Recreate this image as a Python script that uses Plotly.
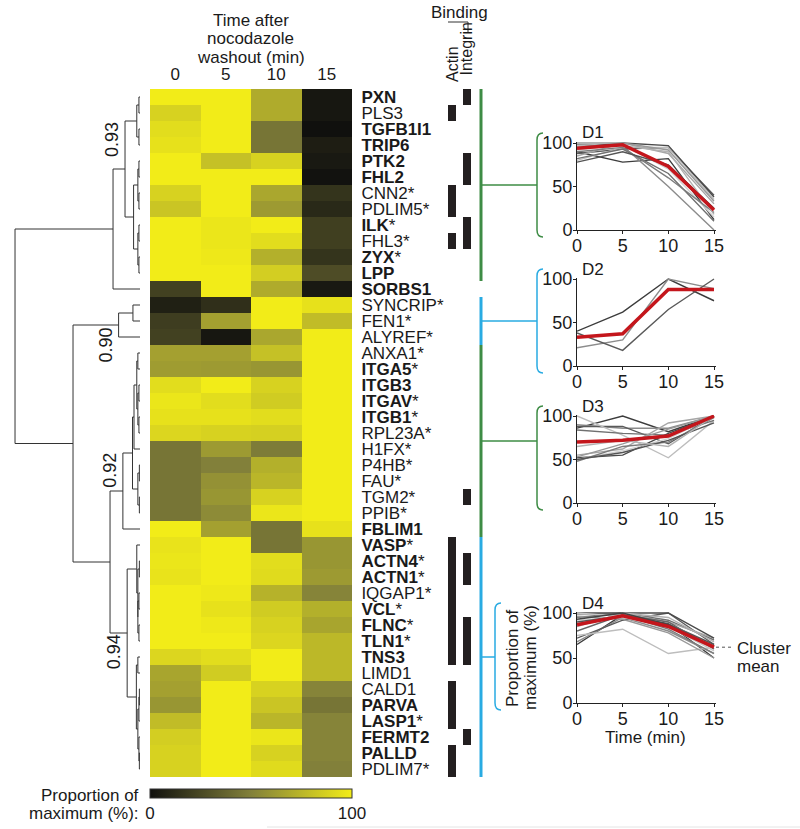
import plotly.graph_objects as go

W, H = 800, 829
FONT = "Liberation Sans, Arial, Helvetica, sans-serif"
INK = "#1a1a1a"


def px(x):
    return x / W


def py(y):
    return 1 - y / H


# ---------------- data ----------------
genes = ["PXN", "PLS3", "TGFB1I1", "TRIP6", "PTK2", "FHL2", "CNN2", "PDLIM5", "ILK", "FHL3",
         "ZYX", "LPP", "SORBS1", "SYNCRIP", "FEN1", "ALYREF", "ANXA1", "ITGA5", "ITGB3", "ITGAV",
         "ITGB1", "RPL23A", "H1FX", "P4HB", "FAU", "TGM2", "PPIB", "FBLIM1", "VASP", "ACTN4",
         "ACTN1", "IQGAP1", "VCL", "FLNC", "TLN1", "TNS3", "LIMD1", "CALD1", "PARVA", "LASP1",
         "FERMT2", "PALLD", "PDLIM7"]
starred = ["CNN2", "PDLIM5", "ILK", "FHL3", "ZYX", "SYNCRIP", "FEN1", "ALYREF", "ANXA1", "ITGA5",
           "ITGAV", "ITGB1", "RPL23A", "H1FX", "P4HB", "FAU", "TGM2", "PPIB", "VASP", "ACTN4",
           "ACTN1", "IQGAP1", "VCL", "FLNC", "TLN1", "LASP1", "PDLIM7"]
bold = ["PXN", "TGFB1I1", "TRIP6", "PTK2", "FHL2", "ILK", "ZYX", "LPP", "SORBS1", "ITGA5", "ITGB3",
        "ITGAV", "ITGB1", "FBLIM1", "VASP", "ACTN4", "ACTN1", "VCL", "FLNC", "TLN1", "TNS3",
        "PARVA", "LASP1", "FERMT2", "PALLD"]

time_labels = ["0", "5", "10", "15"]
time_min = [0, 5, 10, 15]

# heatmap: proportion of maximum (%) per time point
t0 = [100, 88, 93, 95, 100, 100, 88, 82, 100, 100, 100, 100, 22, 7, 20, 22, 65, 63, 93, 97, 95, 90,
      45, 45, 45, 45, 45, 100, 96, 97, 96, 100, 100, 100, 100, 90, 67, 65, 60, 78, 86, 88, 88]
t5 = [100, 100, 100, 100, 80, 100, 100, 100, 97, 97, 98, 100, 100, 14, 65, 3, 65, 62, 100, 93, 95, 88,
      62, 50, 58, 60, 55, 65, 100, 100, 100, 98, 95, 98, 100, 93, 85, 100, 100, 100, 100, 100, 100]
t10 = [70, 70, 45, 45, 88, 100, 68, 62, 100, 93, 72, 86, 70, 100, 100, 68, 80, 60, 88, 85, 93, 87,
       48, 72, 75, 88, 97, 45, 45, 93, 92, 73, 85, 88, 90, 100, 100, 88, 82, 75, 97, 88, 92]
t15 = [3, 3, 0, 6, 4, 1, 16, 11, 21, 21, 16, 27, 4, 95, 78, 100, 100, 100, 100, 100, 100, 100,
       100, 100, 100, 100, 100, 95, 60, 60, 62, 52, 72, 67, 76, 76, 76, 52, 45, 52, 52, 52, 50]

actin_binders = ["PLS3", "CNN2", "PDLIM5", "FHL3", "VASP", "ACTN4", "ACTN1", "IQGAP1", "VCL", "FLNC",
                 "TLN1", "TNS3", "CALD1", "PARVA", "LASP1", "PALLD", "PDLIM7"]
integrin_binders = ["PXN", "PTK2", "FHL2", "ILK", "FHL3", "TGM2", "ACTN4", "ACTN1", "FLNC", "TLN1",
                    "TNS3", "FERMT2"]

# dendrogram: (correlation, left, right); leaves are row indices
d1_node = (0.93, (0.985, (0.995, 0, 1), (0.995, 2, 3)),
           (0.97, (0.99, (0.995, 4, 5), (0.995, 6, 7)), (0.99, (0.995, 8, 9), (0.995, 10, 11))))
top_node = (0.874, d1_node, 12)
d2_node = (0.90, (0.967, 13, 14), 15)
d3_node = (0.92, (0.965, (0.972, (0.985, (0.99, 16, 17), (0.99, (0.995, 18, 19), (0.995, 20, 21))), 22),
                  (0.99, (0.997, 23, 24), (0.997, 25, 26))), 27)
d4_node = (0.94, (0.985, 28, (0.99, (0.997, 29, 30), (0.99, (0.995, 31, 32), (0.995, 33, 34)))),
           (0.983, (0.99, 35, 36), (0.99, (0.995, (0.997, 37, 38), 39), (0.995, 40, (0.997, 41, 42)))))
tree = (0.416, top_node, (0.687, d2_node, (0.86, d3_node, d4_node)))
node_labels = ["0.93", "0.90", "0.92", "0.94"]
node_corr = [0.93, 0.90, 0.92, 0.94]

# cluster membership (first row, last row)
cluster_names = ["D1", "D2", "D3", "D4"]
cluster_first = [0, 13, 16, 28]
cluster_last = [11, 15, 27, 42]

# line-chart profiles (proportion of maximum, %) at 0, 5, 10, 15 min
d1_profiles = [[90, 78, 82, 12], [98, 97, 50, 0], [88, 93, 95, 40], [80, 95, 95, 35],
               [82, 93, 65, 10], [85, 100, 88, 30], [95, 100, 97, 38], [92, 98, 70, 15],
               [90, 95, 60, 20], [100, 100, 92, 33], [78, 90, 75, 25], [96, 97, 90, 18]]
d1_mean = [94, 98, 73, 23]
d2_profiles = [[40, 62, 100, 75], [21, 30, 100, 89], [38, 18, 65, 100]]
d2_mean = [33, 37, 88, 88]
d3_profiles = [[86, 100, 82, 100], [90, 86, 86, 100], [88, 88, 68, 100], [100, 78, 52, 95],
               [84, 80, 78, 95], [55, 62, 92, 100], [52, 55, 80, 100], [50, 60, 74, 100],
               [48, 65, 70, 98], [53, 68, 85, 100], [50, 58, 72, 92], [65, 72, 65, 100]]
d3_mean = [70, 72, 77, 100]
d4_profiles = [[65, 98, 88, 50], [68, 95, 80, 55], [72, 92, 100, 65], [75, 82, 55, 62],
               [95, 100, 92, 70], [98, 100, 90, 72], [100, 100, 100, 72], [92, 95, 85, 60],
               [88, 98, 82, 55], [96, 93, 78, 50], [90, 97, 88, 65], [85, 100, 95, 68],
               [80, 98, 90, 60], [100, 96, 85, 58], [93, 100, 87, 63]]
d4_mean = [87, 97, 85, 62]

# ---------------- styles ----------------
GREEN = "#3e8c45"
BLUE = "#29abe2"
RED = "#c4161c"
GRAYS = ["#3c3c3c", "#8c8c8c", "#5a5a5a", "#bdbdbd", "#707070", "#a6a6a6", "#4a4a4a",
         "#d2d2d2", "#7c7c7c", "#999999", "#555555", "#b2b2b2", "#666666", "#c6c6c6", "#444444"]
cluster_colors = [GREEN, BLUE, GREEN, BLUE]

HM_TOP, HM_BOT = 89, 777
n = len(genes)
rows = list(range(n))
row_range = [n - 0.5, -0.5]
ydom_rows = [py(HM_BOT), py(HM_TOP)]

fig = go.Figure()

# ---------------- main heatmap ----------------
z = [[t0[i], t5[i], t10[i], t15[i]] for i in rows]
labels = []
for g in genes:
    s = f"<b>{g}</b>" if g in bold else g
    if g in starred:
        s += "*"
    labels.append(s)

fig.add_trace(go.Heatmap(
    z=z, x=[0, 1, 2, 3], y=rows, zmin=0, zmax=100,
    colorscale=[[0, "rgb(16,16,14)"], [0.5, "rgb(130,128,58)"], [1, "rgb(242,236,24)"]],
    xaxis="x", yaxis="y", hoverinfo="skip",
    colorbar=dict(orientation="h", x=px(251), xanchor="center", y=py(789), yanchor="top",
                  len=202 / W, lenmode="fraction", thickness=9, thicknessmode="pixels",
                  xpad=0, ypad=0, outlinewidth=1, outlinecolor="#333",
                  tickvals=[0, 100], ticktext=["0", "100"], ticks="",
                  tickfont=dict(size=17, family=FONT, color=INK)),
))

# ---------------- binding columns ----------------
bind_z = [[1 if g in actin_binders else None, 1 if g in integrin_binders else None] for g in genes]
fig.add_trace(go.Heatmap(
    z=bind_z, x=[0, 1], y=rows, zmin=0, zmax=1,
    colorscale=[[0, "#231f20"], [1, "#231f20"]], showscale=False, xgap=7,
    xaxis="x3", yaxis="y3", hoverinfo="skip",
))

# ---------------- dendrogram ----------------
seg_x, seg_y = [], []


def walk(node):
    if isinstance(node, int):
        return float(node), 1.0
    c, a, b = node
    ya, xa = walk(a)
    yb, xb = walk(b)
    seg_x.extend([xa, c, c, xb, None])
    seg_y.extend([ya, ya, yb, yb, None])
    return (ya + yb) / 2, c


walk(tree)
fig.add_trace(go.Scatter(x=seg_x, y=seg_y, mode="lines", line=dict(color="#333333", width=1),
                         xaxis="x2", yaxis="y2", hoverinfo="skip", showlegend=False))


def corr_at(pxv):
    return 1 - (140 - pxv) / 214


# ---------------- layout axes ----------------
layout = dict(
    width=W, height=H, autosize=False,
    margin=dict(l=0, r=0, t=0, b=0, pad=0, autoexpand=False),
    paper_bgcolor="white", plot_bgcolor="white", showlegend=False,
    font=dict(family=FONT, color=INK, size=17),
    xaxis=dict(domain=[px(150), px(352)], range=[-0.5, 3.5], side="top", anchor="y",
               tickvals=[0, 1, 2, 3], ticktext=time_labels, ticks="outside", ticklen=1,
               tickcolor="rgba(0,0,0,0)", showgrid=False, zeroline=False, showline=False,
               tickfont=dict(size=17)),
    yaxis=dict(domain=ydom_rows, range=row_range, side="right", anchor="x",
               tickvals=rows, ticktext=labels, ticks="outside", ticklen=5,
               tickcolor="rgba(0,0,0,0)", showgrid=False, zeroline=False, showline=False,
               tickfont=dict(size=17)),
    xaxis2=dict(domain=[0, px(150)], range=[corr_at(0), corr_at(150)], anchor="y2", visible=False),
    yaxis2=dict(domain=ydom_rows, range=row_range, anchor="x2", visible=False),
    xaxis3=dict(domain=[px(445), px(475)], range=[-0.5, 1.5], anchor="y3", visible=False),
    yaxis3=dict(domain=ydom_rows, range=row_range, anchor="x3", visible=False),
)

shapes = []
annotations = []

# cluster bars, connectors
BAR_X = 481
panel_top = [143, 279, 416, 613]
panel_bot = [230, 366, 503, 703]
bracket_x = [537, 537, 537, 495]
for k in range(4):
    col = cluster_colors[k]
    s, e = cluster_first[k], cluster_last[k]
    shapes.append(dict(type="line", xref="paper", yref="y", x0=px(BAR_X), x1=px(BAR_X),
                       y0=s - 0.5, y1=e + 0.5, line=dict(color=col, width=3)))
    shapes.append(dict(type="line", xref="paper", yref="y", x0=px(BAR_X), x1=px(bracket_x[k]),
                       y0=(s + e) / 2, y1=(s + e) / 2, line=dict(color=col, width=1.5)))
    xb = bracket_x[k]
    yt = panel_top[k] - 10
    yb = panel_bot[k] + 7
    path = (f"M {px(xb + 6)},{py(yt)} Q {px(xb)},{py(yt)} {px(xb)},{py(yt + 7)} "
            f"L {px(xb)},{py(yb - 7)} Q {px(xb)},{py(yb)} {px(xb + 6)},{py(yb)}")
    shapes.append(dict(type="path", xref="paper", yref="paper", path=path,
                       line=dict(color=col, width=1.5)))

# ---------------- small line charts ----------------
profiles = [d1_profiles, d2_profiles, d3_profiles, d4_profiles]
means = [d1_mean, d2_mean, d3_mean, d4_mean]
X0, X15 = 577, 714
xs = (X15 - X0) / 15.0
for k in range(4):
    ax = 4 + k
    p0, p100 = panel_bot[k], panel_top[k]
    ys = (p0 - p100) / 100.0
    ylo, yhi = 0, 101.5
    xlo, xhi = 0, 15.25
    for j, prof in enumerate(profiles[k]):
        fig.add_trace(go.Scatter(x=time_min, y=prof, mode="lines",
                                 line=dict(color=GRAYS[j % len(GRAYS)], width=1.4),
                                 xaxis=f"x{ax}", yaxis=f"y{ax}", hoverinfo="skip", showlegend=False))
    fig.add_trace(go.Scatter(x=time_min, y=means[k], mode="lines",
                             line=dict(color=RED, width=3.5),
                             xaxis=f"x{ax}", yaxis=f"y{ax}", hoverinfo="skip", showlegend=False))
    layout[f"xaxis{ax}"] = dict(
        domain=[px(X0 + xlo * xs), px(X0 + xhi * xs)], range=[xlo, xhi], anchor=f"y{ax}",
        tickvals=time_min, ticktext=time_labels, showline=True, linecolor="#222", linewidth=1,
        ticks="outside", ticklen=3, tickcolor="#222", showgrid=False, zeroline=False,
        ticklabelstandoff=-4, tickfont=dict(size=18))
    layout[f"yaxis{ax}"] = dict(
        domain=[py(p0 - ylo * ys), py(p0 - yhi * ys)], range=[ylo, yhi], anchor=f"x{ax}",
        tickvals=[0, 50, 100], showline=True, linecolor="#222", linewidth=1,
        ticks="outside", ticklen=3, tickcolor="#222", showgrid=False, zeroline=False,
        ticklabelstandoff=-3, tickfont=dict(size=18))
    annotations.append(dict(text=cluster_names[k], xref="paper", yref="paper", x=px(580),
                            y=py(p100 - 10), xanchor="left", yanchor="middle", showarrow=False,
                            font=dict(size=17)))

# cluster mean pointer
shapes.append(dict(type="line", xref="paper", yref="y7", x0=px(716), x1=px(733),
                   y0=d4_mean[-1], y1=d4_mean[-1], line=dict(color="#555", width=1, dash="dot")))
annotations.append(dict(text="Cluster", xref="paper", yref="paper", x=px(735), y=py(648),
                        xanchor="left", yanchor="middle", showarrow=False, font=dict(size=17)))
annotations.append(dict(text="mean", xref="paper", yref="paper", x=px(735), y=py(666),
                        xanchor="left", yanchor="middle", showarrow=False, font=dict(size=17)))
# D4 axis titles
annotations.append(dict(text="Proportion of", xref="paper", yref="paper", x=px(512), y=py(658),
                        xanchor="center", yanchor="middle", textangle=-90, showarrow=False,
                        font=dict(size=17)))
annotations.append(dict(text="maximum (%)", xref="paper", yref="paper", x=px(530), y=py(658),
                        xanchor="center", yanchor="middle", textangle=-90, showarrow=False,
                        font=dict(size=17)))
annotations.append(dict(text="Time (min)", xref="paper", yref="paper", x=px(645), y=py(737),
                        xanchor="center", yanchor="middle", showarrow=False, font=dict(size=17)))

# ---------------- heatmap header ----------------
for txt, yy in zip(["Time after", "nocodazole", "washout (min)"], [20, 38.5, 57]):
    annotations.append(dict(text=txt, xref="paper", yref="paper", x=px(251), y=py(yy),
                            xanchor="center", yanchor="middle", showarrow=False, font=dict(size=17)))

# binding header
annotations.append(dict(text="Binding", xref="paper", yref="paper", x=px(460), y=py(13),
                        xanchor="center", yanchor="middle", showarrow=False, font=dict(size=17)))
annotations.append(dict(text="Actin", xref="paper", yref="paper", x=px(453), y=py(84),
                        xanchor="center", yanchor="bottom", textangle=-90, showarrow=False,
                        font=dict(size=16)))
annotations.append(dict(text="Integrin", xref="paper", yref="paper", x=px(466), y=py(78),
                        xanchor="center", yanchor="bottom", textangle=-90, showarrow=False,
                        font=dict(size=16)))
shapes.append(dict(type="line", xref="paper", yref="paper", x0=px(448), x1=px(468),
                   y0=py(22), y1=py(22), line=dict(color="#333", width=1)))
shapes.append(dict(type="line", xref="paper", yref="paper", x0=px(468), x1=px(468),
                   y0=py(22), y1=py(32), line=dict(color="#333", width=1)))

# dendrogram node labels
label_rows = [2.69, 15.5, 23.3, 34.7]
for t, c, r in zip(node_labels, node_corr, label_rows):
    annotations.append(dict(text=t, xref="x2", yref="y2", x=c, y=r, xanchor="right",
                            yanchor="middle", textangle=-90, showarrow=False, xshift=-1,
                            font=dict(size=18)))

# colorbar title
annotations.append(dict(text="Proportion of", xref="paper", yref="paper", x=px(141), y=py(795),
                        xanchor="right", yanchor="middle", showarrow=False, font=dict(size=17)))
annotations.append(dict(text="maximum (%):", xref="paper", yref="paper", x=px(141), y=py(813),
                        xanchor="right", yanchor="middle", showarrow=False, font=dict(size=17)))

# faint frame line at the bottom
shapes.append(dict(type="line", xref="paper", yref="paper", x0=px(267), x1=1, y0=py(827),
                   y1=py(827), line=dict(color="#e4e4e4", width=1)))

layout["shapes"] = shapes
layout["annotations"] = annotations
fig.update_layout(**layout)

fig.write_html("out.html", config={"displayModeBar": False, "staticPlot": True},
               post_script="document.body.style.margin='0px';document.body.style.overflow='hidden';")
